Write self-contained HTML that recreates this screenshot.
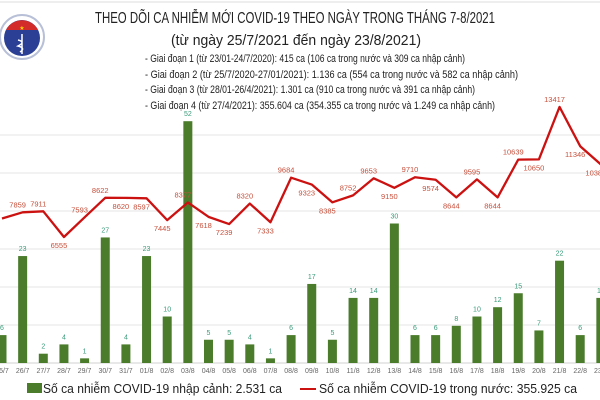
<!DOCTYPE html>
<html><head><meta charset="utf-8"><style>
body{margin:0;background:#fff;}
svg{display:block;font-family:"Liberation Sans","DejaVu Sans",sans-serif;}
</style></head><body>
<svg id="chart" width="600" height="400" viewBox="0 0 600 400">
<line x1="0" y1="2" x2="600" y2="2" stroke="#ddd"/>
<g>
<circle cx="22" cy="37" r="22" fill="#fff" stroke="#b8c0d8" stroke-width="2"/>
<circle cx="22" cy="38" r="18" fill="#2b3f95"/>
<path d="M6 30 A18 18 0 0 1 38 30 Z" fill="#d32a2a"/>
<text x="22" y="30" font-size="6" fill="#f5d000" text-anchor="middle">★</text>
<path d="M22 34 L22 54 M18 40 Q26 42 18 46 Q26 48 20 52" stroke="#fff" stroke-width="1.5" fill="none"/>
</g>
<text x="295" y="23" font-size="16" text-anchor="middle" textLength="400" lengthAdjust="spacingAndGlyphs" fill="#222">THEO DÕI CA NHIỄM MỚI COVID-19 THEO NGÀY TRONG THÁNG 7-8/2021</text>
<text x="296" y="45" font-size="15" text-anchor="middle" textLength="250" lengthAdjust="spacingAndGlyphs" fill="#222">(từ ngày 25/7/2021 đến ngày 23/8/2021)</text>
<g font-size="11" fill="#222">
<text x="145" y="62" textLength="320" lengthAdjust="spacingAndGlyphs">- Giai đoạn 1 (từ 23/01-24/7/2020): 415 ca (106 ca trong nước và 309 ca nhập cảnh)</text>
<text x="145" y="78" textLength="373" lengthAdjust="spacingAndGlyphs">- Giai đoạn 2 (từ 25/7/2020-27/01/2021): 1.136 ca (554 ca trong nước và 582 ca nhập cảnh)</text>
<text x="145" y="93" textLength="330" lengthAdjust="spacingAndGlyphs">- Giai đoạn 3 (từ 28/01-26/4/2021): 1.301 ca (910 ca trong nước và 391 ca nhập cảnh)</text>
<text x="145" y="109" textLength="350" lengthAdjust="spacingAndGlyphs">- Giai đoạn 4 (từ 27/4/2021): 355.604 ca (354.355 ca trong nước và 1.249 ca nhập cảnh)</text>
</g>
<g id="grid"></g><g id="bars"></g><g id="line"></g><g id="xlabels"></g>
<g>
<rect x="27" y="383" width="15" height="10" fill="#4a7c2c"/>
<text x="43" y="393" font-size="13" fill="#222" textLength="239" lengthAdjust="spacingAndGlyphs">Số ca nhiễm COVID-19 nhập cảnh: 2.531 ca</text>
<line x1="300" y1="389" x2="316" y2="389" stroke="#cc1111" stroke-width="2"/>
<text x="319" y="393" font-size="13" fill="#222" textLength="258" lengthAdjust="spacingAndGlyphs">Số ca nhiễm COVID-19 trong nước: 355.925 ca</text>
</g>
</svg>
<script>
const dates=["25/7","26/7","27/7","28/7","29/7","30/7","31/7","01/8","02/8","03/8","04/8","05/8","06/8","07/8","08/8","09/8","10/8","11/8","12/8","13/8","14/8","15/8","16/8","17/8","18/8","19/8","20/8","21/8","22/8","23/8"];
const imported=[6,23,2,4,1,27,4,23,10,52,5,5,4,1,6,17,5,14,14,30,6,6,8,10,12,15,7,22,6,14];
const domestic=[7531,7859,7911,6555,7593,8622,8620,8597,7445,8377,7618,7239,8320,7333,9684,9323,8385,8752,9653,9150,9710,9574,8644,9595,8644,10639,10650,13417,11346,10383];
const labelBelow=[0,0,0,1,0,0,1,1,1,0,1,1,0,1,0,1,1,0,0,1,0,1,1,0,1,0,1,0,1,1];
const NS="http://www.w3.org/2000/svg";
const x=i=>2+i*20.65;
const yb=v=>363-v*4.65;
const yl=v=>237-(v-6555)*0.01895;
function mk(t,a,p){const e=document.createElementNS(NS,t);for(const k in a)e.setAttribute(k,a[k]);p.appendChild(e);return e;}
const grid=document.getElementById('grid');
for(let k=0;k<7;k++){const g=mk('line',{x1:0,x2:600,y1:363-38*k,y2:363-38*k,stroke:k?'#e6e6e6':'#d0d0d0'},grid);

}
const bars=document.getElementById('bars');
imported.forEach((v,i)=>{
const r=mk('rect',{x:x(i)-4.5,y:yb(v),width:9,height:v*4.65,fill:'#4a7c2c'},bars);


const t=mk('text',{x:x(i),y:yb(v)-5,'font-size':7,'text-anchor':'middle',fill:'#3a9a7a'},bars);
t.textContent=v;


});
const lg=document.getElementById('line');
const pts=domestic.map((v,i)=>x(i)+','+yl(v)).join(' ');
const pl=mk('polyline',{points:pts,fill:'none',stroke:'#cc1111','stroke-width':2.3,'stroke-linejoin':'round'},lg);


domestic.forEach((v,i)=>{
if(i===0)return;
const t=mk('text',{x:x(i)-5,y:labelBelow[i]?yl(v)+11:yl(v)-5,'font-size':7.5,'text-anchor':'middle',fill:'#c8503c'},lg);
t.textContent=v;


});
const xl=document.getElementById('xlabels');
dates.forEach((d,i)=>{
const t=mk('text',{x:x(i),y:373,'font-size':7,'text-anchor':'middle',fill:'#666'},xl);
t.textContent=d;


});
</script>
</body></html>
